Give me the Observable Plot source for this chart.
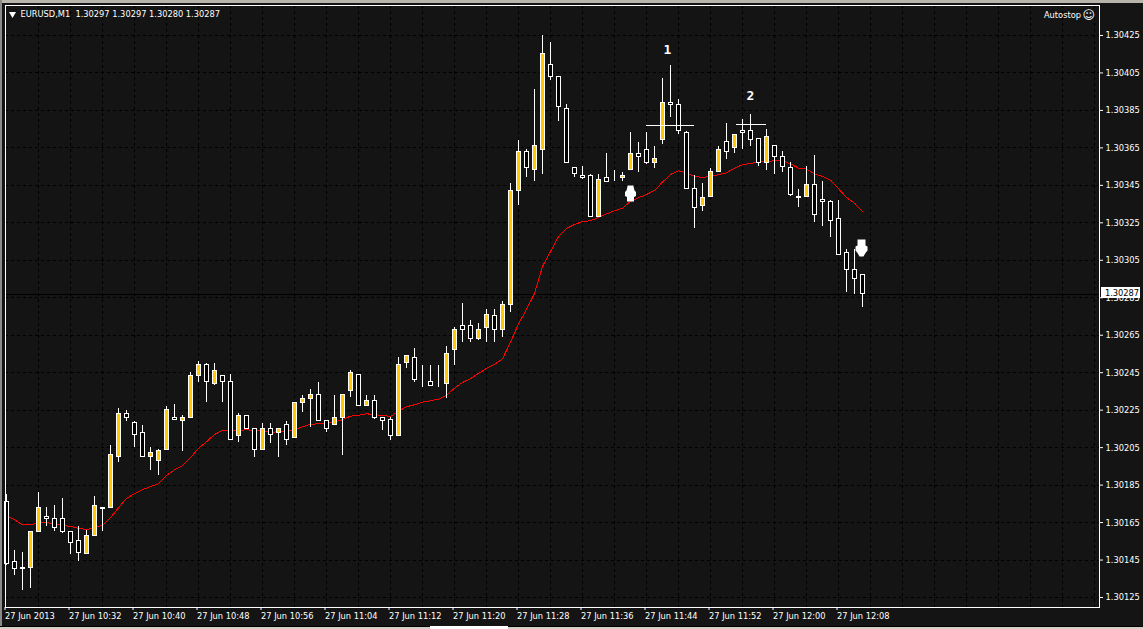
<!DOCTYPE html>
<html>
<head>
<meta charset="utf-8">
<script src="https://cdn.jsdelivr.net/npm/d3@7"></script>
<script src="https://cdn.jsdelivr.net/npm/@observablehq/plot@0.6"></script>
<style>
html,body{margin:0;padding:0;background:#141414;width:1143px;height:629px;overflow:hidden;position:relative}
svg{display:block;position:absolute;left:0;top:0}
.w{position:absolute}
</style>
</head>
<body>
<div class="w" style="left:0;top:0;width:1143px;height:3px;background:#b8b4ac"></div>
<div class="w" style="left:0;top:0;width:2px;height:629px;background:#8a8a86"></div>
<div class="w" style="left:0;top:626px;width:1143px;height:3px;background:#d4d0c8;border-top:1px solid #000;box-sizing:border-box"></div>
<div class="w" style="left:430px;top:626px;width:78px;height:3px;background:#fff"></div>
<div id="chart"></div>
<script>
// Prices are in points above 1.30000 (1 point = 0.00001)
const opens = [176,144,140,141,160,168,167,167,160,155,148,158,172,173,200,223,218,213,200,198,204,221,219,221,243,249,239,243,240,211,222,215,204,215,213,217,210,229,231,233,219,217,221,235,244,227,230,221,220,211,250,253,241,240,239,239,257,270,270,263,269,275,268,281,342,363,353,364,409,403,386,354,350,350,328,349,348,349,353,362,364,357,369,389,388,373,343,334,339,352,368,365,374,374,370,357,366,360,354,339,339,345,337,336,327,309,300,297];
const highs = [180,150,149,160,181,173,174,178,160,163,161,179,173,206,226,225,219,217,205,204,227,228,222,245,251,250,250,243,244,223,222,215,218,218,215,219,229,233,236,240,219,233,233,246,244,233,233,221,221,253,254,258,249,249,249,259,269,282,273,271,279,279,283,346,369,364,396,425,421,403,388,354,355,351,351,362,353,352,373,368,373,366,402,409,391,374,350,346,354,366,378,372,380,383,370,375,366,363,357,343,355,361,347,337,337,311,311,297];
const lows = [142,137,129,130,160,163,160,159,148,144,148,158,160,173,197,219,205,200,193,190,204,220,203,221,240,229,238,229,209,208,215,200,204,207,200,206,210,224,216,219,213,217,201,232,227,227,220,214,209,211,247,240,237,238,237,231,249,261,261,262,261,261,264,277,334,349,347,351,401,379,357,349,348,328,328,347,347,347,353,352,356,354,367,381,372,343,322,331,339,352,359,362,364,366,355,353,351,352,339,333,339,325,323,317,308,288,287,280];
const closes = [143,140,141,160,173,167,162,160,154,149,158,174,173,201,223,221,212,200,202,203,225,220,221,243,249,240,246,240,209,222,215,204,215,212,215,209,229,231,233,219,215,221,233,245,227,230,221,219,211,249,254,241,241,238,239,255,268,268,263,268,276,268,281,342,363,354,366,415,403,387,357,351,349,328,348,347,348,350,362,360,357,359,389,388,374,343,333,338,352,364,363,372,373,369,357,371,360,355,340,338,345,329,336,326,308,300,295,287];
const movingAverage = [168.8,166.5,163.8,163.8,164.9,164.9,164.4,163.6,162.9,161.9,161.3,162.2,163.6,167.6,172.9,177.9,180.4,182.5,184.3,185.7,190.1,193.2,195.3,199.6,204.7,208.1,212,214.2,214.2,214.2,214.5,214.2,214.2,213.1,213.5,213.8,214.7,216.1,217.5,217.7,217.9,218.6,219.9,221.8,222.2,223.1,222.5,222.3,221.6,224.5,226.8,227.9,229.3,230,230.9,233,236.7,239.8,241.8,244.6,247.3,249.4,252.4,261.3,271.1,278.8,287.3,301.7,309.7,317.7,322,324.1,325.7,326.1,327.9,329.8,331.4,332.8,336.4,338.4,340.1,342.3,346.7,350.8,352.8,351.5,349.9,349.1,349.9,350.7,351.7,354.2,356,356.7,357.4,357.8,358.1,358.1,356.5,354.2,353.7,351.2,349.8,347.8,343.2,338.5,335.5,331.1];
const yTickValues = [125,145,165,185,205,225,245,265,285,305,325,345,365,385,405,425];
const headerText = "EURUSD,M1\u00a0\u00a01.30297 1.30297 1.30280 1.30287";
const lastPrice = 287;

const price = p => 1.3 + p / 1e5;
const t0 = Date.UTC(2013, 5, 27, 10, 24);
const minute = m => new Date(t0 + m * 60000);

const candles = opens.map((o, i) => ({
  t: minute(i), open: price(o), high: price(highs[i]), low: price(lows[i]), close: price(closes[i]),
  l: minute(i - 0.25), r: minute(i + 0.25), up: closes[i] >= o
}));
const ma = movingAverage.map((v, i) => ({t: minute(i), v: price(v)}));
const labelTicks = d3.range(0, 105, 8).map(minute);
const gridTicks = d3.range(4, 137, 4).map(minute);
const fmtX = d3.utcFormat("%d %b %H:%M");
const FONT = "DejaVu Sans Condensed, DejaVu Sans";

const drawShape = P => ({draw(c, s){ const k = Math.sqrt(s / Math.PI) / 8;
  P.forEach(([x,y],i)=> i ? c.lineTo(x*k,y*k) : c.moveTo(x*k,y*k)); c.closePath(); }});
const arrowUp = drawShape([[-2.8,-8],[2.8,-8],[4,-3],[5.5,-1.5],[5.5,2.7],[3.5,3.7],[3.5,8],[-3.5,8],[-3.5,3.7],[-5.5,2.7],[-5.5,-1.5],[-4,-3]]);
const arrowDown = drawShape([[-4,-8.5],[4,-8.5],[4,-2.5],[6,-1.5],[6,2.5],[4,5],[2,8.5],[-2,8.5],[-4,5],[-6,2.5],[-6,-1.5],[-4,-2.5]]);

const crisp = {shapeRendering: "crispEdges"};
const chart = Plot.plot({
  width: 1143, height: 629,
  marginLeft: 5, marginRight: 44, marginTop: 5, marginBottom: 22,
  style: {background: "transparent", fontFamily: FONT},
  x: {type: "utc", domain: [minute(-0.125), minute(136.625)]},
  y: {domain: [price(119.67), price(441)]},
  marks: [
    Plot.gridX(gridTicks, {stroke: "#000", strokeOpacity: 1, strokeDasharray: "3,3", ...crisp}),
    Plot.gridY(yTickValues.map(price), {stroke: "#000", strokeOpacity: 1, strokeDasharray: "3,3", ...crisp}),
    Plot.axisX({ticks: labelTicks, anchor: "bottom", tickSize: 3, tickPadding: 2, stroke: "#fff", fill: "#fff", fontSize: 9.2, textAnchor: "start", dx: -1.5,
      tickFormat: d => +d === t0 ? "27 Jun 2013" : fmtX(d), label: null}),
    Plot.axisY({ticks: yTickValues.map(price), anchor: "right", tickSize: 3, tickPadding: 3, stroke: "#fff", fill: "#fff", fontSize: 9.2, tickFormat: d3.format(".5f"), label: null}),
    Plot.ruleY([price(lastPrice)], {x1: minute(-0.125), x2: minute(136.625), stroke: "#000", ...crisp}),
    Plot.line(ma, {x: "t", y: "v", stroke: "#f00", strokeWidth: 1, ...crisp}),
    Plot.ruleX(candles, {x: "t", y1: "low", y2: "high", stroke: "#fff", strokeWidth: 1, ...crisp}),
    Plot.rect(candles, {x1: "l", x2: "r", y1: "open", y2: "close", fill: d => d.up ? "#ffc800" : "#000", stroke: "#fff", strokeWidth: 1, ...crisp}),
    Plot.ruleY([price(376.8)], {x1: minute(80), x2: minute(86), stroke: "#fff", ...crisp}),
    Plot.ruleY([price(377.3)], {x1: minute(91.2), x2: minute(95), stroke: "#fff", ...crisp}),
    Plot.text(["1"], {x: minute(82.6), y: price(417.5), fill: "#fff", fontSize: 13, fontWeight: "bold", fontFamily: "DejaVu Sans Mono"}),
    Plot.text(["2"], {x: minute(93), y: price(393), fill: "#fff", fontSize: 13, fontWeight: "bold", fontFamily: "DejaVu Sans Mono"}),
    Plot.dot([0], {x: minute(78), y: price(340.7), r: 8, symbol: arrowUp, fill: "#fff", stroke: "none"}),
    Plot.dot([0], {x: minute(107), y: price(311.6), r: 8, symbol: arrowDown, fill: "#fff", stroke: "none", dx: -1}),
    Plot.frame({stroke: "#fff", ...crisp}),
    Plot.rect([0], {x1: minute(136.9), x2: minute(141.8), y1: price(284.8), y2: price(290.3), fill: "#fff", ...crisp}),
    Plot.text(["1.30287"], {x: minute(137.3), y: price(287.4), fill: "#000", fontSize: 9.2, textAnchor: "start"}),
    Plot.dot([0], {frameAnchor: "top-left", dx: 7, dy: 8.5, symbol: "triangle", r: 2.6, fill: "#fff", stroke: "none", rotate: 180}),
    Plot.text([headerText], {frameAnchor: "top-left", dx: 15, dy: 9, fill: "#fff", fontSize: 9.2, textAnchor: "start", lineAnchor: "middle"}),
    Plot.text(["Autostop"], {frameAnchor: "top-right", dx: -18.5, dy: 10, fill: "#fff", fontSize: 9.2, textAnchor: "end", lineAnchor: "middle"}),
    Plot.text(["\u263A"], {frameAnchor: "top-right", dx: -4.5, dy: 10, fill: "#fff", fontSize: 12, textAnchor: "end", lineAnchor: "middle", fontFamily: "DejaVu Sans"})
  ]
});
document.getElementById("chart").appendChild(chart);
</script>
</body>
</html>
